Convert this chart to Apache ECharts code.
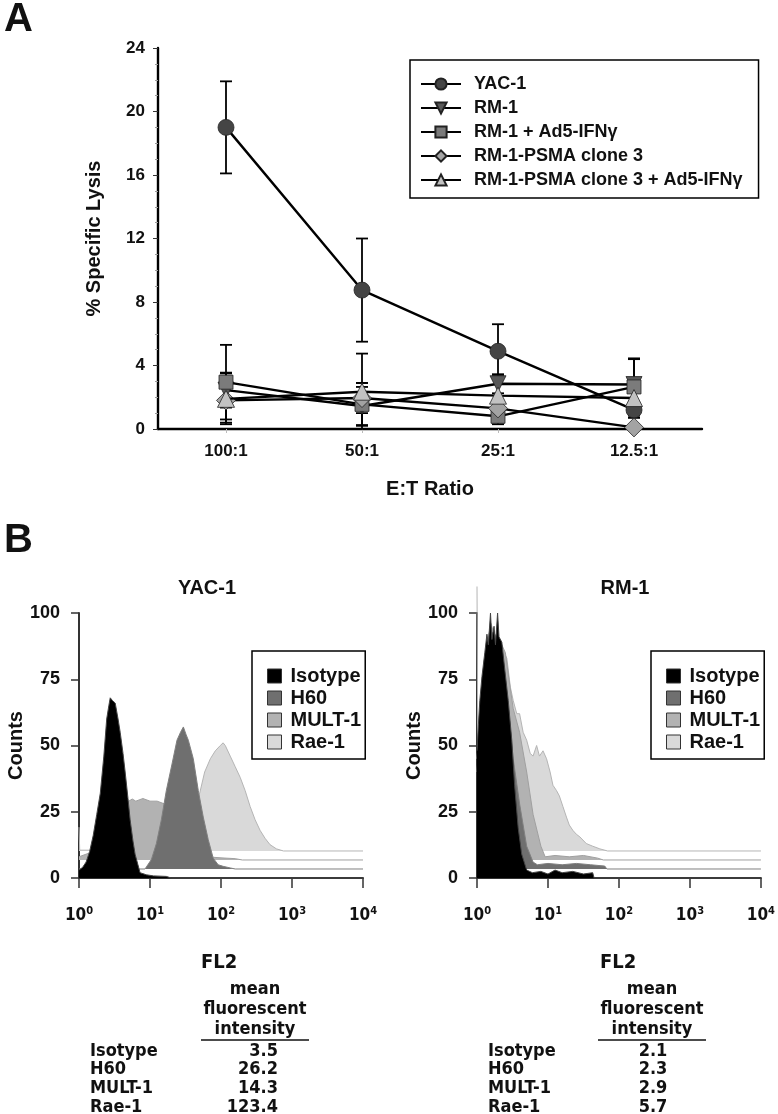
<!DOCTYPE html>
<html><head><meta charset="utf-8">
<script src="https://cdn.jsdelivr.net/npm/echarts@6/dist/echarts.min.js"></script>
<style>html,body{margin:0;padding:0;background:#fff}#c{width:778px;height:1114px}</style>
</head><body><div id="c"></div>
<script>
// ---------- Panel A data ----------
const ratios = ['100:1', '50:1', '25:1', '12.5:1'];
const lysisNames = ['YAC-1', 'RM-1', 'RM-1 + Ad5-IFNγ', 'RM-1-PSMA clone 3', 'RM-1-PSMA clone 3 + Ad5-IFNγ'];
const yac1 = [19.0, 8.75, 4.9, 1.2];
const yac1Err = [2.9, 3.25, 1.7, 0.5];
const rm1 = [2.45, 1.45, 2.85, 2.8];
const rm1Err = [1.1, 1.2, 0.6, 1.6];
const rm1Ad5 = [2.95, 1.55, 0.8, 2.65];
const rm1Ad5Err = [2.35, 1.35, 0.5, 1.8];
const psma = [1.8, 1.95, 1.3, 0.1];
const psmaErr = [1.4, 0.95, 0.5, 0.1];
const psmaAd5 = [1.9, 2.35, 2.1, 1.95];
const psmaAd5Err = [1.6, 2.4, 1.3, 1.1];
const lysisTicks = [0, 4, 8, 12, 16, 20, 24];

// ---------- Panel B data (x = log10 FL2, y = counts above each trace's baseline) ----------
const histNames = ['Isotype', 'H60', 'MULT-1', 'Rae-1'];
const histOffsets = [0, 3.4, 6.8, 10.2];
const decadeTicks = [0, 1, 2, 3, 4];
const countTicks = [0, 25, 50, 75, 100];

const yacIsotype = [[0,3],[0.05,4],[0.1,6],[0.15,10],[0.2,16],[0.25,24],[0.3,32],[0.35,46],[0.39,60],[0.42,65],[0.44,68],[0.47,67],[0.51,66],[0.55,60],[0.58,55],[0.62,47],[0.65,40],[0.69,30],[0.72,22],[0.76,14],[0.79,9],[0.83,5],[0.86,2],[0.95,1.2],[1.05,0.8],[1.23,0.6],[1.3,0]];
const yacH60 = [[0,0],[0.93,0],[0.95,0.4],[1.02,3.6],[1.09,9.6],[1.16,18.6],[1.23,29.6],[1.31,39.6],[1.38,48.6],[1.43,51.6],[1.47,53.6],[1.51,50.6],[1.54,48.6],[1.61,41.6],[1.68,29.6],[1.75,19.6],[1.82,11.1],[1.89,4.1],[1.96,1.6],[2.03,1.0],[2.13,0.4],[2.2,0]];
const yacMult1 = [[0,1.2],[0.1,2.2],[0.2,3.2],[0.3,6.2],[0.4,11.2],[0.5,16.2],[0.6,20.2],[0.7,22.2],[0.75,23],[0.8,22.2],[0.9,23.2],[1.0,22.2],[1.1,22.2],[1.2,21.2],[1.3,19.2],[1.4,15.2],[1.5,11.2],[1.6,6.2],[1.7,3.2],[1.8,1.7],[1.9,1.0],[2.0,0.8],[2.2,0.5],[2.3,0]];
const yacRae1 = [[0,9],[0.01,0.3],[0.5,0.3],[1.0,0.8],[1.2,1.8],[1.3,3.8],[1.4,7.8],[1.5,11.8],[1.6,16.8],[1.7,21.8],[1.77,29.8],[1.85,34.8],[1.92,37.8],[1.99,39.8],[2.03,40.8],[2.06,39.8],[2.13,35.8],[2.2,31.8],[2.27,27.8],[2.34,22.8],[2.41,16.8],[2.48,11.8],[2.55,7.8],[2.62,4.8],[2.69,2.4],[2.78,0.8],[2.88,0]];

const rmIsotype = [[0,48],[0.02,58],[0.04,67],[0.07,76],[0.11,85],[0.14,92],[0.16,88],[0.19,100],[0.21,90],[0.24,95],[0.26,88],[0.29,100],[0.31,91],[0.35,89],[0.39,79],[0.44,67],[0.49,52],[0.53,35],[0.58,19],[0.63,9],[0.7,3],[0.78,2],[0.9,2.5],[1.0,1.5],[1.1,3],[1.2,2],[1.35,2.5],[1.5,1.5],[1.63,2],[1.65,0]];
const rmH60 = [[0,36.6],[0.05,56.6],[0.1,74.6],[0.15,84.6],[0.2,89.6],[0.25,88.6],[0.3,84.6],[0.35,78.6],[0.4,70.6],[0.45,58.6],[0.51,41.6],[0.6,24.6],[0.7,8.6],[0.79,2.6],[0.85,1.6],[1.0,2.1],[1.2,1.6],[1.4,2.1],[1.6,1.6],[1.8,1.1],[1.83,0]];
const rmMult1 = [[0,38.2],[0.05,55.2],[0.1,73.2],[0.15,83.2],[0.2,88.2],[0.25,85.2],[0.3,83.2],[0.35,81.2],[0.4,78.2],[0.45,68.2],[0.51,57.2],[0.6,48.2],[0.7,33.2],[0.79,17.2],[0.9,5.2],[0.96,1.2],[1.1,1.7],[1.3,1.2],[1.5,1.7],[1.7,0.7],[1.78,0]];
const rmRae1 = [[0,99.8],[0.01,39.8],[0.05,54.8],[0.1,71.8],[0.15,79.8],[0.2,85.8],[0.25,79.8],[0.3,77.8],[0.36,75.8],[0.42,72.8],[0.47,61.8],[0.51,56.8],[0.56,51.8],[0.6,51.8],[0.65,44.8],[0.7,41.8],[0.75,36.8],[0.79,35.8],[0.84,39.8],[0.88,35.8],[0.93,37.8],[0.98,34.8],[1.03,29.8],[1.07,24.8],[1.12,22.8],[1.16,20.8],[1.21,16.8],[1.26,12.8],[1.3,9.8],[1.35,7.8],[1.4,6.3],[1.45,5.3],[1.54,2.8],[1.63,1.8],[1.73,0.8],[1.84,0]];

const mfiRows = ['Isotype', 'H60', 'MULT-1', 'Rae-1'];
const mfiYac = ['3.5', '26.2', '14.3', '123.4'];
const mfiRm = ['2.1', '2.3', '2.9', '5.7'];
const mfiHeader = ['mean', 'fluorescent', 'intensity'];

// ---------- build ----------
const F = "'Liberation Sans', Arial, sans-serif";
const FN = "'DejaVu Sans Condensed', 'Liberation Sans', sans-serif";
const chart = echarts.init(document.getElementById('c'), null, {renderer: 'canvas'});

const lysisSets = [
  {vals: yac1, err: yac1Err, symbol: 'circle', size: 16, color: '#454545'},
  {vals: rm1, err: rm1Err, symbol: 'path://M0,0 L10,0 L5,9 Z', size: 16, color: '#585858'},
  {vals: rm1Ad5, err: rm1Ad5Err, symbol: 'rect', size: 14, color: '#7b7b7b'},
  {vals: psma, err: psmaErr, symbol: 'diamond', size: 19, color: '#a3a3a3'},
  {vals: psmaAd5, err: psmaAd5Err, symbol: 'triangle', size: 17, color: '#c2c2c2'}
];

function errSeries(vals, errs) {
  return {
    type: 'custom', xAxisIndex: 0, yAxisIndex: 0, silent: true, z: 2, animation: false,
    data: vals.map((v, i) => [i, Math.max(0, v - errs[i]), v + errs[i]]),
    encode: {x: 0, y: [1, 2]},
    renderItem(params, api) {
      const x = api.value(0);
      const lo = api.coord([x, api.value(1)]);
      const hi = api.coord([x, api.value(2)]);
      const w = 6, st = {stroke: '#000', lineWidth: 1.8};
      return {type: 'group', children: [
        {type: 'line', shape: {x1: lo[0], y1: lo[1], x2: hi[0], y2: hi[1]}, style: st},
        {type: 'line', shape: {x1: lo[0] - w, y1: lo[1], x2: lo[0] + w, y2: lo[1]}, style: st},
        {type: 'line', shape: {x1: hi[0] - w, y1: hi[1], x2: hi[0] + w, y2: hi[1]}, style: st}
      ]};
    }
  };
}

const series = [];
lysisSets.forEach(s => series.push(errSeries(s.vals, s.err)));
lysisSets.forEach((s, i) => series.push({
  name: lysisNames[i], type: 'line', xAxisIndex: 0, yAxisIndex: 0, data: s.vals,
  symbol: s.symbol, symbolSize: s.size, showSymbol: true, z: 3 + i, animation: false,
  lineStyle: {color: '#000', width: 2.4},
  itemStyle: {color: s.color, borderColor: '#222', borderWidth: 0.8}
}));

const histFill = ['#000000', '#6f6f6f', '#b2b2b2', '#d9d9d9'];
const histLine = ['#444444', '#808080', '#a0a0a0', '#b5b5b5'];
function histSeries(name, idx, pts, axis) {
  const off = histOffsets[idx];
  return {
    name, type: 'line', xAxisIndex: axis, yAxisIndex: axis, showSymbol: false, symbol: 'none',
    z: 10 - idx, animation: false, clip: false,
    data: pts.map(p => [p[0], p[1] + off]).concat([[4, off]]),
    lineStyle: {color: histLine[idx], width: 1},
    itemStyle: {color: histFill[idx]},
    areaStyle: {color: histFill[idx], opacity: 1, origin: off}
  };
}
[yacIsotype, yacH60, yacMult1, yacRae1].forEach((d, i) => series.push(histSeries(histNames[i], i, d, 1)));
[rmIsotype, rmH60, rmMult1, rmRae1].forEach((d, i) => series.push(histSeries(histNames[i], i, d, 2)));

function decadeAxis(gi) {
  return {
    type: 'value', gridIndex: gi, min: 0, max: 4, interval: 1, offset: 7,
    axisLine: {show: true, lineStyle: {color: '#333', width: 2}},
    axisTick: {show: true, length: 10, lineStyle: {color: '#333', width: 1.5}},
    splitLine: {show: false},
    axisLabel: {
      margin: 21, formatter: v => '{b|10}{s|' + decadeTicks[v] + '}',
      rich: {b: {fontFamily: FN, fontWeight: 'bold', fontSize: 17, color: '#111'},
             s: {fontFamily: FN, fontWeight: 'bold', fontSize: 11, color: '#111', verticalAlign: 'top', padding: [0, 0, 9, 0]}}
    }
  };
}
function countAxis(gi) {
  return {
    type: 'value', gridIndex: gi, min: 0, max: 100, interval: 25, offset: 7,
    axisLine: {show: true, lineStyle: {color: '#333', width: 2}},
    axisTick: {show: true, length: 8, lineStyle: {color: '#333', width: 1.5}},
    splitLine: {show: false},
    axisLabel: {margin: 12, fontFamily: F, fontWeight: 'bold', fontSize: 18, color: '#111',
      formatter: v => String(countTicks[countTicks.indexOf(v)])},
    name: 'Counts', nameLocation: 'middle', nameGap: 44, nameRotate: 90,
    nameTextStyle: {fontFamily: F, fontWeight: 'bold', fontSize: 20, color: '#111'}
  };
}
function histLegend(left) {
  return {
    data: histNames, left, top: 651, orient: 'vertical', icon: 'rect',
    itemWidth: 14, itemHeight: 14, itemGap: 2, padding: [15, 4, 7, 15],
    borderColor: '#000', borderWidth: 1.5, selectedMode: false,
    itemStyle: {borderColor: '#333', borderWidth: 1},
    textStyle: {fontFamily: F, fontWeight: 'bold', fontSize: 20, color: '#111', padding: [0, 0, 0, 4]}
  };
}

const graphic = [];
function txt(text, x, y, size, align, family, weight) {
  graphic.push({type: 'text', x, y, silent: true, style: {text, fontSize: size, fontFamily: family || F,
    fontWeight: weight || 'bold', fill: '#111', align: align || 'left', verticalAlign: 'middle'}});
}
txt('A', 4, 20, 40, 'left');
txt('B', 4, 541, 40, 'left');
txt('YAC-1', 207, 588, 20, 'center');
txt('RM-1', 625, 588, 20, 'center');
function table(fl2x, headCx, rowX, vals, valAlign, valX) {
  txt('FL2', fl2x, 963, 20, 'left', FN);
  mfiHeader.forEach((h, i) => txt(h, headCx, 989 + i * 20, 18, 'center', FN));
  graphic.push({type: 'line', silent: true, shape: {x1: headCx - 54, y1: 1040, x2: headCx + 54, y2: 1040}, style: {stroke: '#111', lineWidth: 1.5}});
  mfiRows.forEach((r, i) => {
    txt(r, rowX, 1051 + i * 18.7, 18, 'left', FN);
    txt(vals[i], valX, 1051 + i * 18.7, 18, valAlign, FN);
  });
}
table(201, 255, 90, mfiYac, 'right', 278);
table(600, 652, 488, mfiRm, 'center', 653);

const option = {
  backgroundColor: '#fff',
  animation: false,
  grid: [
    {left: 158, top: 48, width: 544, height: 381},
    {left: 79, top: 613, width: 284, height: 265},
    {left: 477, top: 613, width: 285, height: 265}
  ],
  xAxis: [
    {type: 'category', gridIndex: 0, data: ratios, boundaryGap: true,
     axisLine: {lineStyle: {color: '#000', width: 2.4}},
     axisTick: {show: true, alignWithLabel: true, length: 4, lineStyle: {color: '#bbb'}},
     axisLabel: {margin: 14, fontFamily: F, fontWeight: 'bold', fontSize: 17, color: '#111'},
     name: 'E:T Ratio', nameLocation: 'middle', nameGap: 50,
     nameTextStyle: {fontFamily: F, fontWeight: 'bold', fontSize: 20, color: '#111'}},
    decadeAxis(1), decadeAxis(2)
  ],
  yAxis: [
    {type: 'value', gridIndex: 0, min: 0, max: 24, interval: 4,
     axisLine: {show: true, lineStyle: {color: '#000', width: 2.4}},
     axisTick: {show: true, length: 5, lineStyle: {color: '#333', width: 1}},
     minorTick: {show: true, splitNumber: 4, length: 3, lineStyle: {color: '#999'}},
     splitLine: {show: false},
     axisLabel: {margin: 13, fontFamily: F, fontWeight: 'bold', fontSize: 17, color: '#111',
       formatter: v => String(lysisTicks[lysisTicks.indexOf(v)])},
     name: '% Specific Lysis', nameLocation: 'middle', nameGap: 54, nameRotate: 90,
     nameTextStyle: {fontFamily: F, fontWeight: 'bold', fontSize: 20, color: '#111'}},
    countAxis(1), countAxis(2)
  ],
  legend: [
    {data: lysisNames, left: 410, top: 60, orient: 'vertical', itemWidth: 40, itemHeight: 14, itemGap: 6,
     padding: [15, 16, 9, 10], borderColor: '#000', borderWidth: 1.5, selectedMode: false,
     textStyle: {fontFamily: F, fontWeight: 'bold', fontSize: 18, color: '#111', padding: [0, 0, 0, 8]}},
    histLegend(252), histLegend(651)
  ],
  graphic,
  series
};
chart.setOption(option);
</script></body></html>
